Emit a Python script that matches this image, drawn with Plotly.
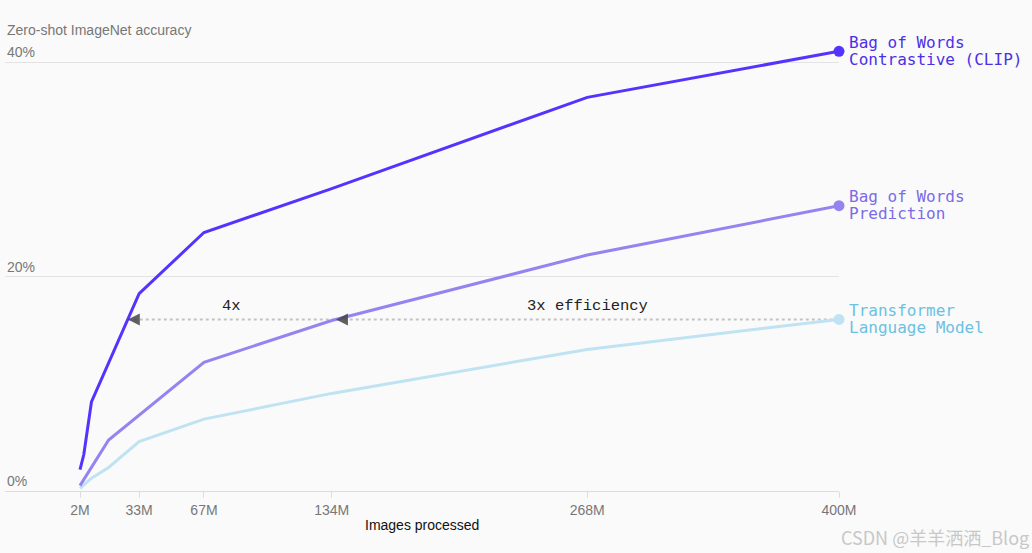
import numpy as np
import plotly.graph_objects as go

# ---- data (millions of images, zero-shot accuracy %) ----
clip_x = [2, 4, 8, 33, 67, 134, 268, 400]
clip_y = [2.0, 3.4, 8.3, 18.4, 24.1, 28.2, 36.7, 41.0]
bow_x = [2, 17, 67, 134, 268, 400]
bow_y = [0.5, 4.75, 12.0, 15.9, 22.0, 26.6]
tf_x = [2, 8, 17, 33, 67, 134, 268, 400]
tf_y = [0.25, 1.2, 2.2, 4.6, 6.7, 9.1, 13.2, 16.0]

x_ticks = [2, 33, 67, 134, 268, 400]
x_tick_labels = ["2M", "33M", "67M", "134M", "268M", "400M"]
y_ticks = [0, 20, 40]
y_tick_labels = ["0%", "20%", "40%"]

series = [
    ("Bag of Words", "Contrastive (CLIP)", clip_x, clip_y, "#5533ff", "#4b30e8"),
    ("Bag of Words", "Prediction", bow_x, bow_y, "#9384f0", "#7b6be8"),
    ("Transformer", "Language Model", tf_x, tf_y, "#bfe3f2", "#6cc1e2"),
]

BG = "#fafafa"
GRAY = "#777777"
MONO = "DejaVu Sans Mono"

fig = go.Figure()

# reference level (transformer final accuracy) and crossing points
target = tf_y[-1]
x_clip_cross = float(np.interp(target, clip_y, clip_x))
x_bow_cross = float(np.interp(target, bow_y, bow_x))

fig.add_shape(type="line", x0=x_clip_cross, x1=tf_x[-1], y0=target, y1=target,
              xref="x", yref="y", line=dict(color="#c4c4c4", width=2, dash="dot"),
              layer="below")

for name1, name2, xs, ys, col, lcol in reversed(series):
    fig.add_trace(go.Scatter(x=xs, y=ys, mode="lines", line=dict(color=col, width=3),
                             hoverinfo="skip", showlegend=False, cliponaxis=False))
    fig.add_trace(go.Scatter(x=[xs[-1]], y=[ys[-1]], mode="markers",
                             marker=dict(color=col, size=11), hoverinfo="skip",
                             showlegend=False, cliponaxis=False))

annotations = []
for name1, name2, xs, ys, col, lcol in series:
    for txt, sh in ((name1, 9), (name2, -8)):
        annotations.append(dict(x=xs[-1], y=ys[-1], xref="x", yref="y", text=txt,
                                showarrow=False, xanchor="left", yanchor="middle",
                                xshift=8, yshift=sh,
                                font=dict(family=MONO, size=16, color=lcol)))

# arrowheads on the dotted line
for xc in (x_clip_cross, x_bow_cross):
    annotations.append(dict(x=xc, y=target, xref="x", yref="y", text="",
                            showarrow=True, ax=10, ay=0, arrowhead=2, arrowsize=2.4,
                            arrowwidth=1, arrowcolor="rgba(70,70,70,0.85)", standoff=0))

annotations.append(dict(x=(x_clip_cross + x_bow_cross) / 2, y=target, xref="x", yref="y",
                        text="4x", showarrow=False, yshift=13,
                        font=dict(family="Liberation Mono", size=15.5, color="#222")))
annotations.append(dict(x=(x_bow_cross + tf_x[-1]) / 2, y=target, xref="x", yref="y",
                        text="3x efficiency", showarrow=False, yshift=13,
                        font=dict(family="Liberation Mono", size=15.5, color="#222")))

# y tick labels above gridlines
for v, lab in zip(y_ticks, y_tick_labels):
    annotations.append(dict(x=0, y=v, xref="paper", yref="y", text=lab, showarrow=False,
                            xanchor="left", yanchor="middle", yshift=10,
                            font=dict(family="Liberation Sans", size=14, color=GRAY)))

annotations.append(dict(x=0, y=1, xref="paper", yref="paper",
                        text="Zero-shot ImageNet accuracy", showarrow=False,
                        xanchor="left", yanchor="middle", yshift=10,
                        font=dict(family="Liberation Sans", size=14, color=GRAY)))
annotations.append(dict(x=0.5, y=0, xref="paper", yref="paper", text="Images processed",
                        showarrow=False, xanchor="center", yanchor="middle", yshift=-34,
                        font=dict(family="Liberation Sans", size=14, color="#111")))
annotations.append(dict(x=1, y=0, xref="paper", yref="paper", text="CSDN @羊羊洒洒_Blog",
                        showarrow=False, xanchor="right", yanchor="middle",
                        xshift=192, yshift=-46,
                        font=dict(family="Noto Sans CJK SC", size=18, color="#c8c8c8")))

px_per_m = (839 - 80) / (400 - 2)
x_left = 2 - (80 - 5) / px_per_m
y_top = (491 - 40) / ((491 - 62) / 40)

fig.update_layout(
    width=1032, height=553,
    paper_bgcolor=BG, plot_bgcolor=BG,
    margin=dict(l=5, r=1032 - 839, t=40, b=553 - 491),
    annotations=annotations,
    xaxis=dict(range=[x_left, 400], tickvals=x_ticks, ticktext=x_tick_labels,
               showgrid=False, zeroline=False, showline=True, linecolor="#dddddd",
               linewidth=1, ticks="outside", ticklen=6, tickcolor="#dddddd",
               tickfont=dict(family="Liberation Sans", size=14, color=GRAY)),
    yaxis=dict(range=[0, y_top], tickvals=y_ticks, showticklabels=False,
               showgrid=True, gridcolor="#e3e3e3", gridwidth=1, zeroline=False),
)

fig.write_html("out.html", config={"displayModeBar": False},
               post_script="document.body.style.margin='0';"
                           "document.body.style.background='#fafafa';")
